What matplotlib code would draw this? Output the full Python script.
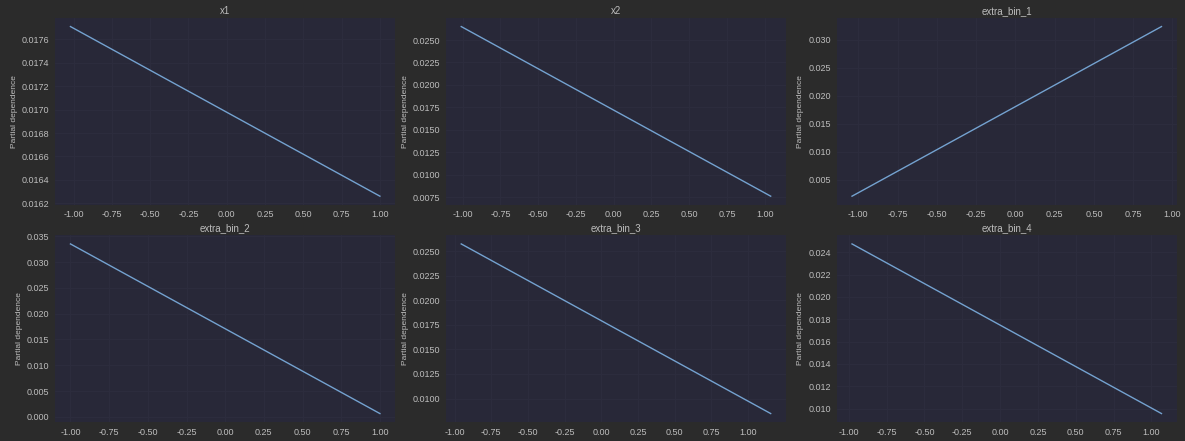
import matplotlib
matplotlib.use("Agg")
import matplotlib.pyplot as plt
import matplotlib.ticker as ticker

# partial dependence end points (x min/max, pd at each)
features = ['x1', 'x2', 'extra_bin_1', 'extra_bin_2', 'extra_bin_3', 'extra_bin_4']
x_lo = [-1.02, -1.01, -1.04, -1.00, -0.955, -0.978]
x_hi = [1.00, 1.04, 0.93, 1.00, 1.155, 1.066]
pd_lo = [0.01771, 0.02650, 0.00207, 0.0335, 0.02575, 0.02474]
pd_hi = [0.01626, 0.00760, 0.03238, 0.00065, 0.00847, 0.00955]
x_ticks = [-1.00, -0.75, -0.50, -0.25, 0.00, 0.25, 0.50, 0.75, 1.00]

fig_bg = '#2b2b2b'
ax_bg = '#282838'
text_c = '#bdbdbd'
line_c = '#74a2d0'

plt.rcParams['font.family'] = ['Liberation Sans', 'DejaVu Sans']

f, axes = plt.subplots(2, 3, figsize=(11.85, 4.41), dpi=100)
f.patch.set_facecolor(fig_bg)
plt.subplots_adjust(left=0.0464, right=0.9932, top=0.959, bottom=0.043,
                    wspace=0.148, hspace=0.165)

for i, ax in enumerate(axes.flat):
    ax.set_facecolor(ax_bg)
    ax.plot([x_lo[i], x_hi[i]], [pd_lo[i], pd_hi[i]], color=line_c, lw=1.0)
    ax.set_title(features[i], color=text_c, fontsize=7, pad=3)
    ax.set_ylabel('Partial dependence', color=text_c, fontsize=6, labelpad=3)
    ax.set_xticks(x_ticks)
    ax.xaxis.set_major_formatter(ticker.FormatStrFormatter('%.2f'))
    ax.yaxis.get_major_formatter().set_useOffset(False)
    ax.tick_params(colors=text_c, labelsize=6.5, length=0, pad=4)
    ax.grid(True, color='#2d2d3e', lw=0.6)
    for s in ax.spines.values():
        s.set_visible(False)

plt.savefig('out.png', dpi=100, facecolor=fig_bg)
